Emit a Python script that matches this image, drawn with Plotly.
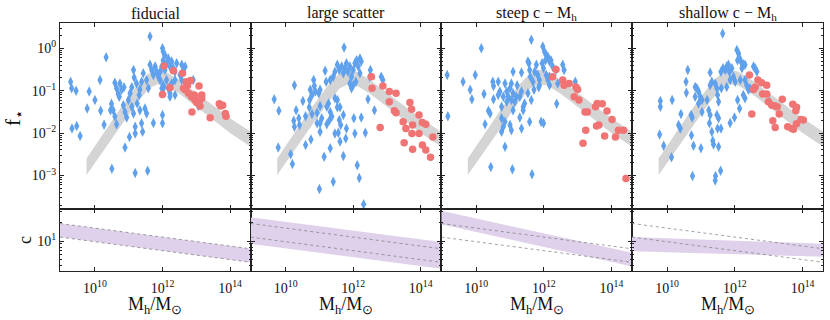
import numpy as np
import plotly.graph_objects as go

# ---------------- data (log10 values) ----------------
panel_titles = ["fiducial", "large scatter", "steep c \u2212 M<sub>h</sub>", "shallow c \u2212 M<sub>h</sub>"]

# grey model band of f_star (same in every panel)
band_logM = [9.75, 10.25, 10.75, 11.25, 11.6, 11.85, 12.1, 12.5, 13.0, 13.5, 14.0, 14.61]
band_upper = [-2.60, -2.00, -1.42, -0.88, -0.58, -0.50, -0.55, -0.75, -1.05, -1.35, -1.65, -1.97]
band_lower = [-2.99, -2.42, -1.85, -1.28, -0.95, -0.85, -0.88, -1.07, -1.38, -1.70, -2.00, -2.32]

# panel 1: fiducial
fid_blue_logM = [11.63, 10.33, 9.28, 9.31, 9.44, 10.15, 9.83, 10.00, 9.77, 10.17, 10.49, 10.46,
                 10.59, 10.74, 10.64, 10.69, 10.79, 10.86, 10.72, 11.14, 11.16, 11.09, 11.04, 10.99,
                 11.23, 11.33, 11.38, 11.31, 11.43, 11.53, 11.58, 10.59, 10.64, 10.54, 10.84, 10.89,
                 10.94, 11.09, 11.14, 11.19, 11.25, 11.33, 11.38, 11.41, 11.02, 10.89, 11.19, 11.48,
                 11.53, 11.73, 12.00, 12.00, 9.32, 9.46, 9.56, 10.27, 10.50, 11.19, 11.56,
                 11.63, 11.68, 11.73, 11.78, 11.83, 11.88, 11.93, 11.98, 12.02, 12.07, 12.12, 12.17,
                 12.22, 12.27, 12.32, 12.37, 12.42, 12.00, 12.02, 12.07, 11.93, 12.02, 12.12, 12.17,
                 12.22, 12.27, 12.37, 12.57, 12.62, 12.57, 12.52, 12.72, 12.91, 12.67, 12.04, 12.22,
                 12.37, 13.06, 11.98]
fid_blue_logf = [0.28, -0.21, -0.79, -0.94, -1.00, -0.75, -1.02, -1.22, -1.42, -1.47, -1.31, -1.46,
                 -0.81, -0.83, -0.94, -1.08, -0.98, -0.92, -1.14, -0.51, -0.69, -0.92, -1.06, -1.22,
                 -0.83, -0.97, -0.79, -1.10, -0.59, -0.75, -0.94, -1.61, -1.79, -1.46, -1.34, -1.50,
                 -1.63, -1.38, -1.54, -1.85, -1.30, -1.46, -1.77, -1.97, -2.09, -2.34, -2.01, -1.42,
                 -1.54, -1.76, -1.57, -1.77, -1.89, -1.83, -2.07, -1.80, -2.84, -2.94, -2.89,
                 -0.39, -0.51, -0.63, -0.43, -0.55, -0.67, -0.55, -0.43, -0.28, -0.51, -0.35, -0.24,
                 -0.43, -0.31, -0.47, -0.55, -0.35, 0.00, -0.08, -0.16, -0.75, -0.87, -0.75, -0.94,
                 -1.06, -0.83, -0.75, -0.39, -0.51, -0.75, -0.63, -0.87, -0.75, -0.43, -0.92, -1.14,
                 -1.10, -1.36, -0.94]
fid_red_logM = [12.05, 12.32, 12.59, 12.00, 12.22, 12.70, 12.83, 12.74, 12.67, 12.77, 12.86, 12.96,
                13.01, 13.09, 13.16, 13.11, 13.08, 12.87, 13.41, 13.68, 13.72, 13.78, 13.86, 13.88,
                12.62, 12.94, 13.16]
fid_red_logf = [-0.42, -0.53, -0.59, -1.09, -0.93, -0.79, -0.76, -0.88, -0.98, -1.06, -1.14, -1.22,
                -1.28, -1.24, -1.18, -1.36, -0.89, -1.50, -1.64, -1.31, -1.36, -1.34, -1.54, -1.60,
                -0.94, -1.10, -1.10]

# panel 2: large scatter
scat_blue_logM = [11.73, 9.66, 9.80, 10.26, 9.78, 10.15, 10.20, 10.51, 10.31, 10.39, 10.24, 10.26,
                  10.41, 10.59, 10.73, 10.78, 10.83, 10.85, 10.71, 10.70, 10.78, 10.93, 10.98, 11.02,
                  11.02, 11.07, 10.93, 11.02, 11.20, 11.17, 11.22, 11.27, 11.32, 11.30, 11.37, 11.22,
                  11.46, 11.53, 11.53, 11.61, 11.59, 11.63, 11.71, 11.56, 11.46, 11.80, 11.61, 11.78,
                  11.32, 11.14, 11.71, 12.05, 12.12, 12.18, 11.00, 11.41, 12.31, 12.36, 12.02, 12.24,
                  12.44, 12.63, 10.59, 10.75, 11.02, 11.53, 11.59, 11.66, 11.71, 11.76, 11.80, 11.85,
                  11.90, 11.95, 12.00, 12.05, 12.10, 12.15, 12.20, 12.24, 11.90, 12.00, 12.08, 11.95,
                  12.20, 12.51, 12.83, 12.88, 11.41, 11.46, 11.32, 10.88, 12.49]
scat_blue_logf = [0.02, -1.20, -1.47, -0.87, -2.34, -2.50, -2.73, -1.24, -1.46, -1.65, -1.71, -1.85,
                  -1.81, -1.60, -0.98, -1.10, -0.75, -0.89, -1.22, -1.39, -1.55, -1.52, -1.06, -0.98,
                  -1.36, -1.65, -1.77, -1.97, -0.79, -0.53, -1.38, -1.30, -1.50, -1.69, -1.61, -1.79,
                  -1.18, -1.22, -1.39, -1.39, -1.69, -1.81, -1.57, -1.99, -2.01, -1.89, -2.20, -2.13,
                  -2.36, -2.56, -2.54, -2.01, -2.76, -3.06, -3.32, -3.15, -3.68, -1.99, -1.65, -1.63,
                  -1.20, -1.46, -2.28, -2.15, -1.77, -0.39, -0.51, -0.43, -0.59, -0.47, -0.35, -0.55,
                  -0.43, -0.67, -0.51, -0.35, -0.28, -0.43, -0.24, -0.31, -0.83, -0.87, -0.79, -0.94,
                  -0.59, -0.51, -0.67, -0.75, -0.67, -0.55, -0.75, -1.02, -0.67]
scat_red_logM = [12.54, 12.56, 12.88, 13.07, 13.27, 13.07, 13.22, 13.27, 12.80, 13.48, 13.51, 13.56,
                 13.74, 13.76, 13.68, 13.73, 13.95, 14.05, 14.15, 13.76, 14.05, 14.15, 14.29, 14.36,
                 13.95]
scat_red_logf = [-0.67, -0.94, -0.89, -1.02, -1.06, -1.26, -1.47, -1.52, -1.87, -1.73, -2.23, -1.89,
                 -2.01, -2.38, -1.28, -1.44, -1.57, -1.75, -1.79, -1.81, -2.28, -2.40, -2.57, -2.09,
                 -2.01]

# panel 3: steep c-Mh
steep_blue_logM = [9.14, 9.16, 10.15, 11.63, 9.61, 9.82, 9.87, 9.97, 10.23, 10.26, 10.36, 10.41,
                   10.51, 10.49, 10.51, 10.65, 10.65, 10.70, 10.75, 10.80, 10.85, 10.90, 10.95, 10.90,
                   11.00, 11.04, 11.09, 11.09, 11.04, 11.09, 11.14, 11.19, 11.21, 11.29, 11.34, 11.39,
                   11.43, 11.34, 11.39, 10.75, 10.80, 10.85, 11.00, 11.04, 10.75, 11.29, 11.34, 11.58,
                   11.53, 11.71, 11.63, 11.92, 11.99, 10.85, 10.43, 11.07, 11.65, 11.56, 11.58, 11.60,
                   11.73, 11.78, 11.82, 11.87, 11.87, 11.97, 12.02, 12.07, 12.05, 12.12, 12.17, 12.21,
                   11.95, 11.99, 12.07, 12.12, 12.17, 12.26, 12.36, 12.56, 12.60, 12.41, 12.17, 12.38,
                   12.93, 11.53, 11.68, 11.85]
steep_blue_logf = [-0.63, -1.60, 0.00, 0.20, -0.79, -0.98, -1.20, -0.63, -1.08, -1.79, -1.47, -1.54,
                   -1.20, -0.79, -0.89, -0.79, -1.10, -1.02, -1.38, -1.14, -0.83, -1.02, -1.14, -1.26,
                   -0.94, -0.83, -0.55, -1.06, -1.22, -1.46, -1.26, -1.14, -0.87, -1.14, -1.02, -1.38,
                   -1.30, -0.57, -1.46, -1.65, -1.85, -1.73, -1.81, -1.93, -1.97, -1.63, -1.89, -1.73,
                   -1.06, -0.98, -1.22, -1.73, -1.77, -2.32, -2.80, -2.85, -2.97, -0.35, -0.51, -0.67,
                   -0.55, -0.39, -0.63, -0.75, -0.87, 0.04, -0.08, -0.16, -0.28, -0.20, -0.31, -0.28,
                   -0.35, -0.47, -0.63, -0.75, -0.87, -0.43, -0.51, -0.39, -0.51, -0.83, -0.67, -1.31,
                   -0.79, -0.31, -0.79, -0.92]
steep_red_logM = [12.36, 12.26, 12.56, 12.60, 12.75, 12.95, 13.00, 12.90, 13.04, 13.22, 13.29, 13.53,
                  13.58, 13.73, 13.87, 13.56, 13.63, 14.02, 13.24, 13.16, 13.80, 14.12, 14.21, 14.36,
                  14.43]
steep_red_logf = [-0.50, -0.67, -0.75, -0.87, -0.83, -0.91, -0.97, -1.14, -1.22, -1.50, -1.50, -1.38,
                  -1.30, -1.31, -1.48, -1.83, -1.81, -1.68, -1.93, -2.24, -2.07, -2.09, -1.93, -1.93,
                  -3.07]

# panel 4: shallow c-Mh
shal_blue_logM = [11.64, 9.80, 9.80, 10.15, 9.78, 9.90, 10.13, 10.61, 10.56, 10.57, 10.41, 10.34,
                  10.39, 10.71, 10.74, 10.83, 10.88, 10.93, 10.83, 10.98, 11.03, 10.93, 11.03, 11.27,
                  11.32, 11.27, 11.18, 11.23, 11.27, 11.25, 11.42, 11.47, 11.49, 11.52, 11.47, 11.52,
                  11.49, 11.59, 11.32, 11.35, 11.37, 11.52, 11.00, 10.78, 10.72, 10.75, 11.43, 11.42,
                  11.58, 11.86, 11.99, 12.08, 12.14, 11.59, 11.65, 11.72, 11.76, 11.81, 11.84, 11.91,
                  11.96, 12.01, 12.06, 12.11, 12.14, 12.18, 12.24, 12.30, 12.08, 12.21, 12.30, 12.35,
                  12.40, 12.25, 12.30, 12.55, 12.60, 12.65, 12.45, 12.16, 11.86, 11.76, 13.02, 11.60]
shal_blue_logf = [0.35, -1.24, -1.38, -1.22, -2.03, -2.30, -2.57, -0.51, -0.79, -1.05, -1.55, -1.81,
                  -1.89, -1.57, -1.63, -0.91, -0.94, -1.02, -1.14, -1.14, -1.22, -1.30, -1.50, -0.57,
                  -0.79, -0.87, -1.22, -1.46, -1.57, -1.77, -0.83, -0.94, -1.10, -1.26, -1.57, -1.65,
                  -1.89, -1.89, -1.97, -2.18, -2.27, -2.32, -2.36, -2.30, -2.05, -3.01, -3.01, -3.12,
                  -2.89, -1.76, -1.63, -1.22, -1.42, -0.55, -0.47, -0.51, -0.43, -0.39, -0.55, -0.47,
                  -0.67, -0.79, -0.04, -0.12, -0.24, -0.31, -0.37, -0.39, -0.28, -0.47, -0.75, -0.87,
                  -0.98, -1.10, -1.18, -0.43, -0.47, -0.55, -0.94, -0.75, -0.75, -0.91, -1.26, -0.94]
shal_red_logM = [12.43, 12.68, 12.79, 12.94, 12.60, 12.55, 12.82, 12.94, 12.99, 13.09, 13.19, 13.25,
                 13.40, 13.31, 13.71, 13.82, 13.80, 13.95, 14.02, 13.12, 13.19, 13.56, 13.68, 13.73,
                 12.50, 13.82]
shal_red_logf = [-0.63, -0.75, -0.81, -0.87, -0.92, -0.97, -1.08, -1.08, -1.26, -1.34, -1.36, -1.38,
                 -1.20, -1.55, -1.32, -1.39, -1.47, -1.68, -1.69, -1.71, -1.87, -1.85, -1.89, -1.91,
                 -1.55, -1.78]

# concentration-mass relations (bottom row): values at the two mass edges
c_logM = [8.965, 14.61]
fid_c_upper = [19.3, 7.50]
fid_c_lower = [11.6, 4.53]
scat_c_upper = [24.2, 9.64]
scat_c_lower = [9.06, 3.56]
steep_c_upper = [31.0, 6.46]
steep_c_lower = [18.8, 3.89]
shal_c_upper = [11.6, 9.06]
shal_c_lower = [6.85, 5.55]

# tick labels
x_tickvals = [1e10, 1e12, 1e14]
x_ticktext = ["10<sup>10</sup>", "10<sup>12</sup>", "10<sup>14</sup>"]
f_tickvals = [1e-3, 1e-2, 1e-1, 1e0]
f_ticktext = ["10<sup>\u22123</sup>", "10<sup>\u22122</sup>", "10<sup>\u22121</sup>", "10<sup>0</sup>"]
c_tickvals = [10]
c_ticktext = ["10<sup>1</sup>"]

panels = [
    (fid_blue_logM, fid_blue_logf, fid_red_logM, fid_red_logf, fid_c_upper, fid_c_lower),
    (scat_blue_logM, scat_blue_logf, scat_red_logM, scat_red_logf, scat_c_upper, scat_c_lower),
    (steep_blue_logM, steep_blue_logf, steep_red_logM, steep_red_logf, steep_c_upper, steep_c_lower),
    (shal_blue_logM, shal_blue_logf, shal_red_logM, shal_red_logf, shal_c_upper, shal_c_lower),
]

# ---------------- styling ----------------
W, H = 830, 320
FONT = "Liberation Serif"
BLUE = "#5FA1EC"
RED = "#F07474"
GREY = "#D4D4D4"
PURPLE = "#DFD1EB"
edges_px = [60, 250.7, 441.3, 632, 823.3]
top_dom = [1 - 209 / H, 1 - 23.3 / H]
bot_dom = [1 - 270.7 / H, 1 - 209 / H]
x_range = [8.965, 14.61]
f_range = [-3.79, 0.59]
c_range = [0.52, 1.52]

fig = go.Figure()

def p10(a):
    return [10 ** v for v in a]

def axis_common():
    return dict(type="log", showgrid=False, zeroline=False, showline=True, linecolor="#222",
                linewidth=1, mirror="allticks", ticks="inside", ticklen=4, tickwidth=1,
                tickcolor="#222", automargin=False,
                tickfont=dict(family=FONT, size=14, color="#111"))

layout = {}
for i, (bm, bf, rm, rf, cu, cl) in enumerate(panels):
    xt, yt = f"x{i + 1}", f"y{i + 1}"
    xb, yb = f"x{i + 5}", f"y{i + 5}"
    # grey band
    fig.add_trace(go.Scatter(x=p10(band_logM), y=p10(band_lower), mode="lines", line=dict(width=0),
                             hoverinfo="skip", showlegend=False, xaxis=xt, yaxis=yt))
    fig.add_trace(go.Scatter(x=p10(band_logM), y=p10(band_upper), mode="lines", line=dict(width=0),
                             fill="tonexty", fillcolor=GREY, hoverinfo="skip", showlegend=False,
                             xaxis=xt, yaxis=yt))
    fig.add_trace(go.Scatter(x=p10(bm), y=p10(bf), mode="markers",
                             marker=dict(symbol="diamond-tall", size=7.5, color=BLUE, line=dict(width=0)),
                             showlegend=False, xaxis=xt, yaxis=yt))
    fig.add_trace(go.Scatter(x=p10(rm), y=p10(rf), mode="markers",
                             marker=dict(symbol="circle", size=7.5, color=RED, line=dict(width=0)),
                             showlegend=False, xaxis=xt, yaxis=yt))
    # concentration band
    fig.add_trace(go.Scatter(x=p10(c_logM), y=cl, mode="lines", line=dict(width=0),
                             hoverinfo="skip", showlegend=False, xaxis=xb, yaxis=yb))
    fig.add_trace(go.Scatter(x=p10(c_logM), y=cu, mode="lines", line=dict(width=0),
                             fill="tonexty", fillcolor=PURPLE, hoverinfo="skip", showlegend=False,
                             xaxis=xb, yaxis=yb))
    for ref in (fid_c_upper, fid_c_lower):
        fig.add_trace(go.Scatter(x=p10(c_logM), y=ref, mode="lines",
                                 line=dict(width=0.7, color="#777", dash="dot"),
                                 hoverinfo="skip", showlegend=False, xaxis=xb, yaxis=yb))

    xdom = [edges_px[i] / W, edges_px[i + 1] / W]
    ax = axis_common()
    ax.update(domain=xdom, range=x_range, tickvals=x_tickvals, ticktext=x_ticktext,
              showticklabels=False, anchor=yt)
    layout[f"xaxis{i + 1}"] = ax
    ax = axis_common()
    ax.update(domain=xdom, range=x_range, tickvals=x_tickvals, ticktext=x_ticktext,
              showticklabels=True, anchor=yb, ticklabelstandoff=4)
    layout[f"xaxis{i + 5}"] = ax
    ay = axis_common()
    ay.update(domain=top_dom, range=f_range, tickvals=f_tickvals, ticktext=f_ticktext,
              showticklabels=(i == 0), anchor=xt,
              minor=dict(ticks="inside", ticklen=2, tickcolor="#222", dtick="D1", showgrid=False))
    layout[f"yaxis{i + 1}"] = ay
    ay = axis_common()
    ay.update(domain=bot_dom, range=c_range, tickvals=c_tickvals, ticktext=c_ticktext,
              showticklabels=(i == 0), anchor=xb,
              minor=dict(ticks="inside", ticklen=2, tickcolor="#222", dtick="D1", showgrid=False))
    layout[f"yaxis{i + 5}"] = ay

annotations = []
for i, t in enumerate(panel_titles):
    cx = (edges_px[i] + edges_px[i + 1]) / 2 / W
    annotations.append(dict(text=t, x=cx, y=1 - 13 / H, xref="paper", yref="paper",
                            showarrow=False, font=dict(family=FONT, size=16, color="#111"),
                            xanchor="center", yanchor="middle"))
    annotations.append(dict(text="M<sub>h</sub>/M<sub>\u2299</sub>", x=cx, y=1 - 305 / H,
                            xref="paper", yref="paper", showarrow=False,
                            font=dict(family=FONT, size=18, color="#111"),
                            xanchor="center", yanchor="middle"))
annotations.append(dict(text="f<sub>\u22c6</sub>", x=14 / W, y=1 - 118 / H, xref="paper",
                        yref="paper", showarrow=False, textangle=-90,
                        font=dict(family=FONT, size=21, color="#111"),
                        xanchor="center", yanchor="middle"))
annotations.append(dict(text="c", x=25 / W, y=1 - 240 / H, xref="paper", yref="paper",
                        showarrow=False, textangle=-90,
                        font=dict(family=FONT, size=18, color="#111"),
                        xanchor="center", yanchor="middle"))

fig.update_layout(width=W, height=H, margin=dict(l=0, r=0, t=0, b=0),
                  paper_bgcolor="white", plot_bgcolor="white",
                  annotations=annotations, **layout)
fig.write_html("out.html", config={"displayModeBar": False},
               post_script="document.body.style.margin='0';document.body.style.padding='0';")
